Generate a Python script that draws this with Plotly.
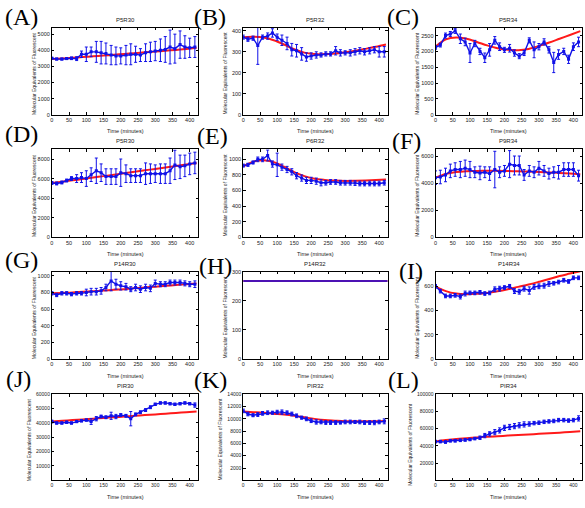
import plotly.graph_objects as go

W, H = 585, 508

# ---------------- data ----------------
t = [0, 14, 29, 43, 57, 72, 86, 100, 114, 129, 143, 157, 172, 186, 200,
     215, 229, 243, 257, 272, 286, 300, 315, 329, 343, 357, 372, 386, 400, 415]
t_fit = [0, 30, 60, 90, 120, 150, 180, 210, 240, 270, 300, 330, 360, 390, 420]
x_ticks = [0, 50, 100, 150, 200, 250, 300, 350, 400]

titles = ["P5R30", "P5R32", "P5R34", "P5R30", "P6R32", "P9R34",
          "P14R30", "P14R32", "P14R34", "PIR30", "PIR32", "PIR34"]
letters = ["(A)", "(B)", "(C)", "(D)", "(E)", "(F)",
           "(G)", "(H)", "(I)", "(J)", "(K)", "(L)"]

a_mean = [3500, 3450, 3450, 3480, 3500, 3480, 3750, 3750, 3900, 3900, 3850, 3800, 3700, 3650, 3650,
          3700, 3750, 3750, 3700, 3850, 3900, 3950, 4000, 4050, 4200, 4100, 4350, 4200, 4150, 4200]
a_err = [60, 60, 60, 60, 80, 120, 200, 450, 300, 650, 700, 650, 600, 550, 500,
         600, 650, 500, 400, 550, 600, 600, 700, 800, 1050, 900, 850, 700, 600, 650]
a_fit = [3450, 3490, 3530, 3575, 3620, 3670, 3720, 3770, 3820, 3870, 3920, 3970, 4020, 4080, 4150]

b_mean = [370, 360, 365, 330, 370, 375, 390, 370, 355, 340, 310, 305, 290, 275, 280,
          285, 285, 290, 290, 305, 295, 295, 295, 300, 305, 300, 305, 310, 300, 300]
b_err = [10, 10, 10, 90, 10, 15, 20, 15, 25, 30, 30, 30, 30, 20, 15,
         15, 10, 10, 10, 20, 15, 10, 15, 15, 15, 15, 15, 15, 25, 25]
b_fit = [370, 372, 368, 355, 335, 312, 296, 290, 289, 292, 298, 305, 314, 324, 335]

c_mean = [2130, 2200, 2500, 2550, 2650, 2400, 2300, 1950, 2250, 2000, 1800, 2050, 2350, 2150, 2050,
          2100, 1950, 1850, 1950, 2350, 2050, 2150, 2300, 2050, 1650, 1900, 2000, 1750, 2150, 2300]
c_err = [60, 60, 80, 80, 80, 150, 120, 300, 100, 100, 150, 200, 120, 120, 80,
         120, 100, 80, 80, 80, 250, 100, 100, 100, 320, 150, 100, 130, 120, 150]
c_fit = [2150, 2380, 2440, 2400, 2300, 2190, 2100, 2050, 2040, 2080, 2170, 2280, 2400, 2520, 2640]

d_mean = [5550, 5500, 5600, 5800, 6000, 6000, 6100, 6000, 6400, 6800, 6600, 6200, 6200, 6200, 6600,
          6500, 6300, 6300, 6300, 6500, 6500, 6500, 6500, 6500, 6800, 7400, 7200, 7300, 7500, 7600]
d_err = [150, 150, 150, 150, 200, 400, 500, 800, 700, 1300, 900, 800, 800, 800, 1400,
         900, 700, 700, 700, 1100, 1000, 900, 1000, 1000, 1300, 1500, 1200, 1100, 1100, 1100]
d_fit = [5550, 5680, 5820, 5960, 6100, 6250, 6390, 6540, 6690, 6840, 6990, 7140, 7290, 7440, 7600]

e_mean = [920, 930, 960, 1000, 1000, 1050, 940, 930, 900, 870, 840, 790, 760, 730, 730,
          720, 700, 700, 710, 710, 700, 700, 700, 695, 690, 690, 690, 690, 690, 700]
e_err = [20, 20, 20, 30, 30, 70, 40, 150, 40, 40, 40, 40, 40, 40, 40,
         40, 40, 30, 30, 30, 30, 30, 30, 30, 30, 30, 30, 30, 30, 30]
e_fit = [910, 970, 990, 965, 905, 835, 785, 752, 736, 727, 723, 725, 729, 734, 740]

f_mean = [4400, 4450, 4600, 4900, 5000, 5000, 5100, 5000, 4800, 4750, 4800, 4700, 5000, 4800, 4900,
          5400, 5300, 5300, 4600, 4900, 4800, 5100, 4900, 4700, 4800, 4800, 5000, 5000, 5000, 4550]
f_err = [500, 500, 500, 500, 500, 600, 600, 600, 400, 500, 400, 500, 1350, 400, 400,
         1000, 700, 700, 400, 400, 400, 500, 400, 400, 400, 500, 500, 500, 500, 400]
f_fit = [4400, 4680, 4820, 4880, 4900, 4910, 4910, 4890, 4870, 4850, 4820, 4790, 4750, 4700, 4650]

g_mean = [790, 770, 790, 790, 780, 790, 790, 800, 810, 810, 820, 860, 940, 900, 880,
          870, 840, 860, 840, 860, 850, 910, 900, 900, 920, 920, 920, 910, 900, 900]
g_err = [20, 20, 20, 20, 20, 20, 20, 40, 40, 40, 40, 40, 120, 60, 50,
         40, 30, 40, 40, 40, 40, 40, 30, 30, 30, 30, 30, 30, 30, 40]
g_fit = [790, 795, 800, 808, 815, 823, 832, 840, 850, 860, 870, 880, 890, 900, 910]

h_t = [0, 425]
h_mean = [268, 268]
h_fit = [268, 268]

i_mean = [600, 560, 520, 520, 525, 515, 540, 545, 545, 550, 540, 545, 575, 580, 590,
          600, 560, 555, 580, 565, 595, 600, 605, 620, 625, 635, 650, 640, 670, 670]
i_err = [15, 15, 15, 15, 15, 20, 20, 15, 15, 15, 15, 15, 20, 20, 15,
         15, 20, 20, 20, 30, 20, 20, 20, 20, 15, 15, 15, 15, 15, 15]
i_fit = [600, 560, 540, 535, 538, 545, 558, 575, 595, 615, 637, 660, 685, 705, 725]

j_mean = [41000, 40000, 40000, 40500, 40000, 41000, 41500, 42000, 41000, 43000, 44500, 44000, 45000, 44500, 45500,
          45000, 43000, 46000, 47500, 49000, 51000, 53000, 54000, 54000, 53500, 53000, 53500, 54000, 53500, 52500]
j_err = [1000, 800, 800, 800, 800, 800, 800, 800, 2000, 1500, 1000, 1000, 2500, 1500, 1000,
         1000, 5000, 1000, 1000, 1000, 1000, 800, 800, 800, 800, 800, 800, 800, 800, 1500]
j_fit = [41000, 41500, 42000, 42500, 43000, 43500, 44000, 44500, 45000, 45500, 46000, 46500, 47000, 47500, 48000]

k_mean = [11300, 10800, 10600, 10700, 10900, 11000, 11000, 11100, 11100, 11000, 10800, 10500, 10200, 10000, 9700,
          9500, 9500, 9400, 9400, 9400, 9400, 9500, 9500, 9500, 9500, 9400, 9400, 9400, 9500, 9600]
k_err = [300, 300, 250, 300, 300, 300, 250, 300, 350, 300, 300, 300, 250, 300, 300,
         350, 300, 300, 300, 300, 250, 300, 300, 250, 300, 300, 300, 350, 300, 400]
k_fit = [11200, 11100, 11000, 10850, 10700, 10500, 10250, 10000, 9800, 9700, 9620, 9600, 9600, 9620, 9650]

l_mean = [45000, 45000, 44500, 46000, 46000, 46500, 47000, 47500, 48500, 49500, 52000, 54000, 56000, 58000, 61000,
          62000, 63000, 64000, 65000, 65500, 66500, 67000, 68000, 68500, 69000, 70000, 70000, 69500, 70000, 72000]
l_err = [1500, 1500, 1500, 1500, 1500, 1500, 1500, 1500, 1500, 2000, 2500, 2500, 3000, 3000, 3000,
         3000, 3000, 3000, 3000, 2500, 2000, 2000, 2000, 2000, 2000, 2000, 2000, 2000, 2000, 3000]
l_fit = [45000, 46800, 48000, 49000, 49800, 50600, 51300, 52000, 52600, 53300, 54000, 54700, 55400, 56200, 57000]

y_ranges = [[0, 5400], [0, 415], [0, 2750], [0, 9000], [0, 1130], [0, 6500],
            [0, 1050], [0, 300], [0, 720], [0, 60000], [0, 14000], [0, 100000]]
y_ticks = [[0, 1000, 2000, 3000, 4000, 5000], [0, 100, 200, 300, 400],
           [0, 500, 1000, 1500, 2000, 2500], [0, 2000, 4000, 6000, 8000],
           [0, 200, 400, 600, 800, 1000], [0, 2000, 4000, 6000],
           [0, 200, 400, 600, 800, 1000], [0, 100, 200, 300],
           [0, 200, 400, 600], [10000, 20000, 30000, 40000, 50000, 60000],
           [2000, 4000, 6000, 8000, 10000, 12000, 14000],
           [20000, 40000, 60000, 80000, 100000]]

means = [a_mean, b_mean, c_mean, d_mean, e_mean, f_mean, g_mean, h_mean, i_mean, j_mean, k_mean, l_mean]
errs = [a_err, b_err, c_err, d_err, e_err, f_err, g_err, None, i_err, j_err, k_err, l_err]
fits = [a_fit, b_fit, c_fit, d_fit, e_fit, f_fit, g_fit, h_fit, i_fit, j_fit, k_fit, l_fit]

# ---------------- layout geometry (pixels) ----------------
col_px = [(50, 197), (242, 387), (435, 582)]
row_px = [(25, 113), (148, 237), (272, 360), (396, 483)]
letter_pos = [(1, 14), (191, 14), (384, 14),
              (1, 133), (194, 135), (389, 140),
              (1, 260), (196, 266), (396, 271),
              (2, 380), (191, 382), (385, 381)]
ytitle_off = [18, 18, 18, 18, 18, 18, 18, 18, 18, 23, 23, 25]
ytitle_shift = [2, 2, 2, 2, 2, 2, 2, 2, 2, 2, 2, 7]

BLUE = "#1010e8"
RED = "#ff1a1a"
SANS = "Liberation Sans, Arial, sans-serif"

def px_x(p):
    return p / W

def px_y(p):
    return 1 - p / H

fig = go.Figure()
annotations = []
layout_axes = {}

for k in range(12):
    r, c = divmod(k, 3)
    n = k + 1
    xa = "x" if n == 1 else f"x{n}"
    ya = "y" if n == 1 else f"y{n}"
    xl, xr = col_px[c]
    yt, yb = row_px[r]

    fit_x = h_t if k == 7 else t_fit
    data_x = h_t if k == 7 else t

    fig.add_trace(go.Scatter(x=fit_x, y=fits[k], mode="lines",
                             line=dict(color=RED, width=2, shape="spline"),
                             xaxis=xa, yaxis=ya, showlegend=False))
    if errs[k] is None:
        fig.add_trace(go.Scatter(x=data_x, y=means[k], mode="lines",
                                 line=dict(color=BLUE, width=1.6),
                                 xaxis=xa, yaxis=ya, showlegend=False))
    else:
        fig.add_trace(go.Scatter(x=data_x, y=means[k], mode="lines+markers",
                                 line=dict(color=BLUE, width=1.4),
                                 marker=dict(color=BLUE, size=3, symbol="square"),
                                 error_y=dict(type="data", array=errs[k], visible=True,
                                              color=BLUE, thickness=1, width=1.5),
                                 xaxis=xa, yaxis=ya, showlegend=False))

    axcommon = dict(ticks="inside", ticklen=2.5, tickwidth=0.7, tickcolor="black",
                    showline=True, linecolor="black", linewidth=0.8, mirror="ticks",
                    showgrid=False, zeroline=False, tickformat="d",
                    tickfont=dict(size=5.5 if r < 3 else 5, family=SANS, color="#222"))
    layout_axes["xaxis" if n == 1 else f"xaxis{n}"] = dict(
        domain=[px_x(xl), px_x(xr)], range=[0, 425], tickvals=x_ticks,
        anchor=ya, **axcommon)
    layout_axes["yaxis" if n == 1 else f"yaxis{n}"] = dict(
        domain=[px_y(yb), px_y(yt)], range=y_ranges[k], tickvals=y_ticks[k],
        anchor=xa, **axcommon)

    # title
    annotations.append(dict(text=titles[k], x=px_x((xl + xr) / 2), y=px_y(yt - 8),
                            xref="paper", yref="paper", showarrow=False,
                            xanchor="center", yanchor="middle",
                            font=dict(size=6, family=SANS, color="#222")))
    # x label
    annotations.append(dict(text="Time (minutes)", x=px_x((xl + xr) / 2), y=px_y(yb + 17),
                            xref="paper", yref="paper", showarrow=False,
                            xanchor="center", yanchor="middle",
                            font=dict(size=5.5, family=SANS, color="#222")))
    # y label
    annotations.append(dict(text="Molecular Equivalents of Fluorescent",
                            x=px_x(xl - ytitle_off[k]), y=px_y((yt + yb) / 2 + ytitle_shift[k]),
                            xref="paper", yref="paper", showarrow=False,
                            textangle=-90, xanchor="center", yanchor="middle",
                            font=dict(size=5, family=SANS, color="#222")))
    # panel letter
    lx, ly = letter_pos[k]
    annotations.append(dict(text=letters[k], x=px_x(lx), y=px_y(ly),
                            xref="paper", yref="paper", showarrow=False,
                            xanchor="left", yanchor="middle",
                            font=dict(size=24, family="Liberation Serif, Times New Roman, serif",
                                      color="black")))

fig.update_layout(width=W, height=H, margin=dict(l=0, r=0, t=0, b=0),
                  paper_bgcolor="white", plot_bgcolor="white",
                  annotations=annotations, **layout_axes)

fig.write_html("out.html")
